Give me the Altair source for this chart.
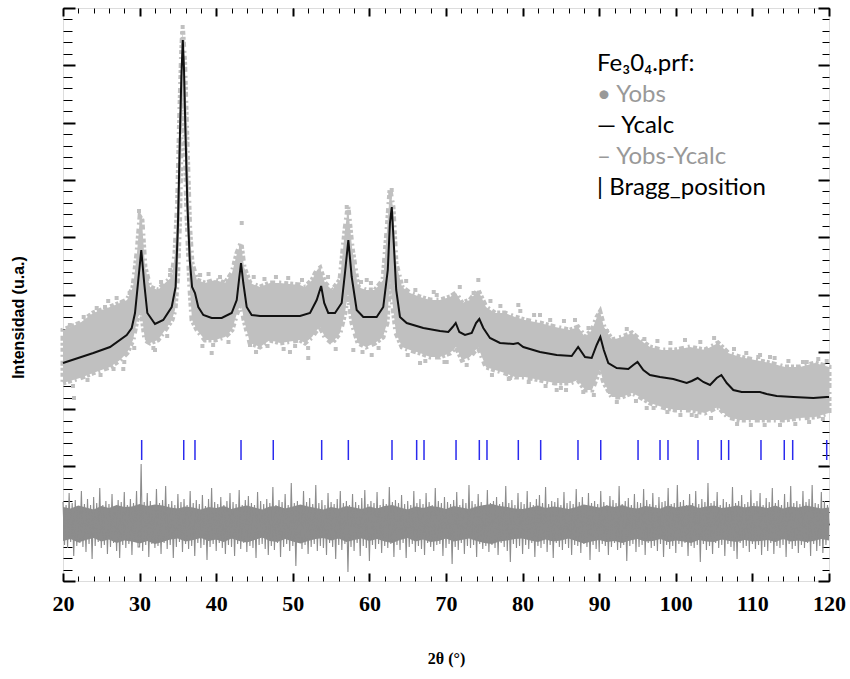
import altair as alt
import pandas as pd

# ---------------- data ----------------
# Ycalc (calculated profile)
calc_tt = [20.0, 23.96, 26.14, 28.32, 28.97, 29.40, 29.83, 30.22, 30.60, 31.01,
           32.01, 33.09, 34.19, 34.70, 35.00, 35.26, 35.45, 35.64, 35.80, 35.98,
           36.23, 36.55, 36.85, 37.23, 37.66, 38.32, 39.41, 40.72, 42.02, 42.68,
           43.02, 43.24, 43.54, 43.98, 44.63, 45.72, 47.90, 50.94, 52.25, 53.12,
           53.70, 54.10, 54.63, 55.51, 56.38, 56.81, 57.25, 57.69, 58.34, 59.20,
           60.95, 61.81, 62.40, 62.68, 62.92, 63.18, 63.50, 63.99, 64.87, 67.04,
           69.22, 70.30, 70.87, 71.27, 71.74, 72.48, 73.36, 73.92, 74.35, 74.87,
           75.74, 77.05, 78.79, 79.40, 80.09, 82.27, 84.45, 86.41, 87.25, 88.15,
           89.02, 89.67, 90.15, 90.60, 91.19, 92.28, 93.80, 94.45, 95.00, 95.76,
           96.63, 97.94, 99.67, 101.42, 102.08, 102.85, 103.59, 104.47, 105.34, 105.95,
           106.65, 107.51, 108.60, 110.99, 111.87, 113.17, 115.34, 117.95, 119.70, 120.0]
calc_I = [2180, 2280, 2340, 2460, 2530, 2680, 3010, 3310, 2980, 2680,
          2570, 2610, 2740, 2940, 3540, 4440, 5040, 5410, 5110, 4510,
          3780, 3210, 2940, 2880, 2740, 2660, 2630, 2630, 2680, 2810,
          3040, 3180, 2980, 2740, 2660, 2650, 2650, 2650, 2680, 2810,
          2950, 2780, 2680, 2680, 2780, 3080, 3410, 3040, 2710, 2640,
          2640, 2740, 3110, 3580, 3740, 3380, 2910, 2640, 2580, 2530,
          2500, 2490, 2540, 2580, 2490, 2460, 2480, 2580, 2620, 2530,
          2430, 2380, 2370, 2380, 2340, 2290, 2260, 2250, 2340, 2240,
          2230, 2360, 2440, 2310, 2180, 2130, 2120, 2160, 2190, 2110,
          2060, 2040, 2020, 1980, 2000, 2030, 1990, 1960, 2030, 2060,
          1980, 1910, 1890, 1890, 1870, 1850, 1840, 1830, 1840, 1840]

# Yobs: envelope of the dense band of observed points
obs_tt = [20.00, 22.22, 23.92, 26.14, 27.44, 28.36, 29.14, 29.66, 30.05, 30.31,
          30.70, 31.36, 32.40, 33.32, 34.23, 34.62, 34.96, 35.22, 35.48, 35.62,
          35.88, 36.14, 36.53, 36.84, 37.49, 38.54, 39.84, 41.15, 42.06, 42.72,
          43.24, 43.63, 44.41, 45.72, 47.02, 48.33, 50.94, 51.59, 52.51, 53.16,
          53.55, 54.20, 55.12, 56.16, 56.81, 57.21, 57.73, 58.51, 59.56, 60.73,
          61.78, 62.30, 62.69, 63.08, 63.47, 64.26, 65.30, 66.61, 67.91, 69.22,
          70.52, 71.31, 72.09, 73.13, 74.18, 75.22, 76.40, 77.70, 79.01, 80.31,
          82.27, 84.23, 86.19, 87.23, 88.15, 89.06, 89.71, 90.10, 90.63, 91.67,
          92.98, 94.28, 95.33, 96.63, 98.20, 99.90, 101.85, 103.81, 105.51, 106.82,
          108.38, 110.34, 112.30, 114.26, 116.21, 118.17, 120.00]
obs_hi = [2510, 2580, 2680, 2740, 2780, 2810, 2940, 3280, 3640, 3610,
          3140, 2940, 2910, 2980, 3040, 3280, 3780, 4610, 5280, 5510,
          5180, 4510, 3540, 3180, 3010, 2980, 3010, 2980, 3080, 3280,
          3380, 3140, 2980, 2940, 2980, 2980, 2960, 2940, 3010, 3110,
          3130, 2980, 2910, 3010, 3510, 3740, 3340, 2940, 2910, 2910,
          3010, 3510, 3910, 3740, 3180, 2940, 2880, 2840, 2810, 2810,
          2840, 2880, 2780, 2810, 2910, 2740, 2680, 2680, 2640, 2610,
          2580, 2540, 2510, 2540, 2440, 2510, 2640, 2690, 2540, 2410,
          2440, 2480, 2410, 2340, 2310, 2310, 2340, 2310, 2380, 2280,
          2240, 2210, 2180, 2140, 2140, 2180, 2140]
obs_lo = [1980, 2030, 2080, 2140, 2210, 2280, 2410, 2610, 2680, 2650,
          2410, 2380, 2410, 2510, 2610, 2710, 3040, 3610, 4610, 4940,
          4610, 3740, 2980, 2610, 2510, 2410, 2410, 2440, 2510, 2680,
          2780, 2610, 2380, 2340, 2410, 2380, 2410, 2380, 2440, 2510,
          2540, 2440, 2380, 2480, 2680, 2880, 2580, 2380, 2340, 2380,
          2440, 2580, 3010, 2740, 2480, 2340, 2310, 2280, 2240, 2240,
          2280, 2340, 2210, 2240, 2340, 2140, 2110, 2080, 2040, 2040,
          2010, 1980, 1980, 2010, 1910, 1910, 2040, 2110, 1980, 1840,
          1840, 1880, 1840, 1780, 1740, 1710, 1710, 1680, 1740, 1640,
          1610, 1610, 1610, 1610, 1630, 1640, 1680]

# Yobs: points standing out of the band
out_tt = [20.48, 21.44, 25.48, 27.66, 27.87, 29.92, 32.01, 33.97, 35.62, 39.41,
          43.33, 44.41, 47.45, 49.63, 52.02, 57.04, 57.90, 59.65, 60.30, 62.91,
          66.61, 68.79, 70.09, 74.22, 78.36, 79.44, 82.27, 84.45, 85.67, 86.84,
          87.92, 91.41, 93.15, 96.20, 102.08, 104.03, 110.77, 112.30, 115.02, 117.09,
          20.9, 21.3, 22.7, 23.2, 24.4, 24.9, 25.9, 26.6, 27.0, 28.0,
          28.7, 29.3, 31.0, 31.8, 32.8, 33.6, 34.0, 37.9, 38.2, 39.0,
          39.6, 40.5, 41.6, 42.4, 44.9, 45.2, 46.3, 46.7, 47.8, 48.8,
          49.4, 50.3, 51.2, 52.0, 54.6, 55.6, 58.9, 59.1, 60.2, 61.2,
          64.8, 65.0, 66.0, 67.3, 68.4, 69.8, 71.8, 72.7, 73.6, 75.8,
          76.0, 77.1, 78.2, 79.7, 80.8, 81.5, 83.0, 83.6, 85.0, 85.4,
          88.6, 89.3, 91.0, 92.3, 93.6, 94.8, 95.9, 97.1, 97.6, 98.9,
          99.3, 100.6, 101.2, 102.7, 103.2, 104.6, 105.0, 106.3, 107.6, 108.0,
          109.2, 109.8, 111.0, 111.6, 112.9, 113.6, 114.7, 115.6, 116.6, 117.4,
          118.6, 119.2, 119.7]
out_I = [2480, 1830, 2740, 2780, 2120, 3700, 2310, 3060, 5540, 2280,
         3580, 2360, 2940, 2290, 2230, 3740, 2310, 3010, 2260, 3910,
         2180, 2860, 2190, 3010, 2030, 2760, 2660, 1910, 1910, 2610,
         1890, 1890, 1880, 1730, 1660, 2310, 2240, 2240, 1810, 2190,
         2560, 1950, 2640, 2010, 2730, 2060, 2800, 2120, 2830, 2190,
         2880, 2330, 3020, 2330, 2990, 2450, 3110, 3060, 2350, 3070,
         2360, 3040, 2390, 3180, 3040, 2290, 3020, 2350, 3040, 2320,
         3030, 2350, 3010, 2330, 3040, 2320, 2990, 2290, 2980, 2330,
         3000, 2260, 2910, 2200, 2890, 2190, 2940, 2160, 2880, 2800,
         2060, 2750, 2020, 2700, 1990, 2660, 1950, 2610, 1930, 2600,
         2530, 1860, 2500, 1790, 2520, 1800, 2420, 1730, 2400, 1690,
         2380, 1660, 2410, 1650, 2390, 1630, 2430, 1700, 2320, 1570,
         2280, 1560, 2260, 1560, 2230, 1560, 2200, 1570, 2190, 1590,
         2220, 1620, 2200]

# Bragg positions (2theta)
bragg_tt = [30.27, 35.76, 37.23, 43.24, 47.45, 53.77, 57.25, 62.95, 66.17, 67.13,
            71.31, 74.35, 75.35, 79.44, 82.36, 87.23, 90.20, 95.07, 97.94, 98.98,
            102.90, 105.94, 106.90, 111.12, 114.16, 115.26, 119.70]
bragg_lo = 1210
bragg_hi = 1410

# Yobs-Ycalc (drawn with an offset): dense core envelope, one value per degree
core_tt = list(range(20, 121))
core_hi = [740, 725, 755, 735, 715, 750, 730, 760, 740, 745,
           770, 750, 765, 755, 735, 725, 745, 735, 715, 740,
           730, 750, 720, 740, 755, 735, 715, 745, 750, 725,
           745, 765, 745, 730, 715, 740, 725, 750, 735, 720,
           745, 725, 750, 760, 735, 715, 745, 730, 750, 740,
           720, 750, 735, 720, 745, 760, 770, 750, 740, 725,
           720, 735, 755, 730, 745, 735, 720, 740, 765, 750,
           735, 755, 740, 760, 735, 725, 750, 740, 725, 755,
           735, 750, 760, 730, 745, 755, 730, 740, 755, 735,
           750, 745, 730, 755, 725, 745, 735, 755, 740, 725, 735]
core_lo = [400, 420, 385, 410, 430, 395, 415, 380, 405, 395,
           375, 400, 370, 390, 415, 425, 395, 410, 430, 400,
           415, 390, 425, 400, 385, 410, 435, 400, 390, 420,
           395, 375, 400, 420, 430, 405, 425, 390, 410, 425,
           400, 420, 395, 380, 410, 430, 395, 415, 390, 400,
           425, 395, 410, 425, 400, 380, 370, 395, 405, 420,
           425, 405, 390, 415, 395, 405, 425, 400, 375, 395,
           410, 390, 400, 380, 405, 420, 395, 400, 420, 390,
           405, 395, 380, 410, 395, 390, 415, 400, 390, 410,
           395, 400, 410, 390, 420, 395, 405, 390, 400, 420, 405]

# Yobs-Ycalc (drawn with an offset), one value every 0.2 degree from 20 to 120
diff_step = 0.2
diff_I = [
    790, 360, 760, 330, 880, 390, 780, 250, 810, 350,
    750, 380, 900, 340, 770, 290, 820, 370, 760, 220,
    840, 350, 780, 390, 930, 330, 760, 360, 800, 270,
    770, 340, 870, 380, 750, 300, 810, 230, 790, 360,
    890, 330, 760, 370, 820, 260, 780, 390, 900, 340,
    340, 1170, 300, 790, 360, 880, 240, 800, 370, 760,
    330, 920, 350, 780, 270, 810, 380, 950, 320, 770,
    360, 800, 230, 760, 340, 870, 390, 790, 290, 820,
    370, 760, 320, 900, 350, 780, 250, 810, 380, 770,
    330, 860, 360, 750, 210, 820, 340, 930, 370, 790,
    300, 770, 380, 840, 330, 760, 270, 800, 360, 880,
    340, 790, 250, 770, 370, 910, 320, 760, 380, 810,
    290, 850, 350, 780, 330, 760, 230, 890, 360, 800,
    370, 770, 320, 820, 260, 780, 350, 940, 310, 760,
    380, 810, 240, 790, 340, 870, 370, 760, 300, 980,
    350, 780, 150, 800, 380, 760, 320, 900, 360, 790,
    270, 830, 340, 770, 370, 960, 300, 780, 350, 810,
    330, 760, 260, 880, 380, 790, 340, 770, 220, 820,
    360, 900, 310, 780, 370, 800, 90, 760, 340, 870,
    300, 790, 380, 760, 250, 830, 350, 910, 330, 770,
    200, 800, 360, 780, 320, 890, 370, 760, 280, 820,
    350, 770, 330, 940, 370, 790, 240, 810, 360, 780,
    310, 860, 380, 770, 230, 800, 340, 760, 370, 900,
    290, 780, 350, 820, 320, 770, 260, 880, 380, 790,
    340, 760, 300, 930, 360, 800, 370, 780, 250, 840,
    330, 790, 370, 770, 170, 810, 340, 890, 310, 760,
    380, 820, 270, 780, 350, 960, 330, 800, 360, 770,
    240, 870, 370, 790, 320, 760, 350, 910, 290, 780,
    360, 800, 330, 840, 260, 770, 380, 790, 340, 950,
    300, 780, 190, 810, 370, 760, 330, 880, 350, 790,
    270, 770, 360, 900, 320, 790, 380, 760, 240, 820,
    350, 860, 330, 780, 370, 940, 290, 770, 360, 800,
    230, 790, 380, 830, 340, 760, 310, 890, 370, 780,
    330, 800, 260, 770, 360, 920, 350, 790, 280, 840,
    370, 760, 340, 880, 210, 780, 360, 800, 320, 770,
    290, 900, 370, 790, 350, 760, 260, 850, 340, 810,
    380, 780, 310, 950, 330, 770, 360, 800, 200, 830,
    350, 760, 370, 870, 290, 790, 340, 780, 360, 920,
    260, 810, 380, 770, 330, 880, 350, 760, 300, 840,
    370, 790, 240, 800, 360, 930, 320, 770, 350, 780,
    280, 960, 370, 790, 340, 810, 380, 760, 250, 870,
    350, 780, 330, 900, 360, 770, 190, 820, 370, 790,
    310, 980, 350, 780, 270, 800, 380, 890, 330, 760,
    360, 820, 250, 790, 370, 770, 340, 940, 300, 780,
    220, 800, 380, 860, 330, 770, 350, 790, 290, 910,
    370, 780, 320, 800, 360, 880, 260, 760, 340, 830,
    300, 790, 380, 930, 270, 780, 350, 810, 330, 760,
    360, 870, 240, 790, 370, 950, 320, 780, 350, 800,
    280, 770, 360, 900, 330, 790, 380, 820, 250, 960,
    370, 780, 300, 770, 350, 890, 280, 800, 360, 760,
    560,
]

# legend block
legend_labels = ["Fe\u20830\u2084.prf:", "\u2022 Yobs", "\u2014 Ycalc", "\u2013 Yobs-Ycalc", "| Bragg_position"]
legend_colors = ["#000000", "#999999", "#000000", "#999999", "#000000"]

# axis ticks
x_major = list(range(20, 121, 10))
x_minor = list(range(20, 121, 2))
y_major = [573 * k for k in range(11)]
y_minor = [round(114.6 * k, 1) for k in range(51)]

# ---------------- frames ----------------
calc_df = pd.DataFrame({"tt": calc_tt, "I": calc_I})
obs_df = pd.DataFrame({"tt": obs_tt, "lo": obs_lo, "hi": obs_hi})
out_df = pd.DataFrame({"tt": out_tt, "I": out_I})
bragg_df = pd.DataFrame({"tt": bragg_tt, "lo": [bragg_lo] * len(bragg_tt), "hi": [bragg_hi] * len(bragg_tt)})
core_df = pd.DataFrame({"tt": core_tt, "lo": core_lo, "hi": core_hi})
diff_df = pd.DataFrame({"tt": [round(20 + diff_step * i, 2) for i in range(len(diff_I))], "I": diff_I})

XS = alt.Scale(domain=[20, 120], nice=False, zero=False)
YS = alt.Scale(domain=[0, 5730], nice=False, zero=False)


def xaxis(orient, major, labels=False, title=False):
    size = 8 if major else 5
    kw = dict(orient=orient, values=x_major if major else x_minor, tickSize=size, offset=-size,
              domain=False, grid=False, tickColor="black", tickWidth=2 if major else 1,
              labels=labels)
    if labels:
        kw.update(labelFont="Liberation Serif", labelFontWeight="bold", labelFontSize=22,
                  labelColor="black", labelPadding=12, format="d", labelFlush=False)
    if title:
        kw.update(titleFont="Liberation Serif", titleFontWeight="bold", titleFontSize=16,
                  titleColor="black", titlePadding=36)
    return alt.Axis(**kw)


def yaxis(orient, major, title=False):
    size = (12 if orient == "left" else 11) if major else (9 if orient == "left" else 7)
    kw = dict(orient=orient, values=y_major if major else y_minor, tickSize=size, offset=-size,
              domain=False, grid=False, tickColor="black", tickWidth=2 if major else 1,
              labels=False)
    if title:
        kw.update(titleFont="Liberation Sans", titleFontWeight="bold", titleFontSize=16,
                  titleColor="black", titlePadding=36, titleY=309)
    return alt.Axis(**kw)


band = alt.Chart(obs_df).mark_area(
    color="#c0c0c0", opacity=1, interpolate="linear",
    stroke="#c0c0c0", strokeWidth=5, strokeDash=[3, 2, 4, 3, 2, 4, 5, 2]
).encode(
    x=alt.X("tt:Q", scale=XS, axis=xaxis("bottom", False), title=None),
    y=alt.Y("lo:Q", scale=YS, axis=yaxis("left", False), title=None),
    y2="hi:Q",
)

pts = alt.Chart(out_df).mark_square(size=16, color="#c0c0c0", opacity=1).encode(
    x=alt.X("tt:Q", scale=XS, axis=xaxis("top", True), title=None),
    y=alt.Y("I:Q", scale=YS, axis=yaxis("right", True), title=None),
)

calc = alt.Chart(calc_df).mark_line(color="#111111", strokeWidth=2).encode(
    x=alt.X("tt:Q", scale=XS, axis=xaxis("bottom", True, labels=True, title=True), title="2\u03b8 (\u00b0)"),
    y=alt.Y("I:Q", scale=YS, axis=yaxis("left", True, title=True), title="Intensidad (u.a.)"),
)

bragg = alt.Chart(bragg_df).mark_rule(color="#2a2aee", strokeWidth=1.5).encode(
    x=alt.X("tt:Q", scale=XS, axis=xaxis("top", False), title=None),
    y=alt.Y("lo:Q", scale=YS, axis=yaxis("right", False), title=None),
    y2="hi:Q",
)

core = alt.Chart(core_df).mark_area(color="#8c8c8c", opacity=1, interpolate="linear").encode(
    x=alt.X("tt:Q", scale=XS, axis=None),
    y=alt.Y("lo:Q", scale=YS, axis=None),
    y2="hi:Q",
)

diff = alt.Chart(diff_df).mark_line(color="#8c8c8c", strokeWidth=1.1).encode(
    x=alt.X("tt:Q", scale=XS, axis=None),
    y=alt.Y("I:Q", scale=YS, axis=None),
)

legend_layers = []
for i, (lab, col) in enumerate(zip(legend_labels, legend_colors)):
    legend_layers.append(
        alt.Chart(calc_df).mark_text(align="left", baseline="alphabetic", font="Lato",
                                      fontSize=24, color=col).encode(
            x=alt.value(534), y=alt.value(63 + 31 * i), text=alt.value(lab)
        ).transform_filter("datum.tt == 20")
    )

chart = alt.layer(band, pts, calc, bragg, core, diff, *legend_layers).resolve_axis(
    x="independent", y="independent"
).properties(
    width=766, height=573,
    padding={"left": 63, "top": 8, "right": 21, "bottom": 98},
    autosize=alt.AutoSizeParams(type="none"),
).configure_view(stroke="black", strokeWidth=2).configure(background="white")

chart.save("out.html", embed_options={"renderer": "svg", "actions": False})
